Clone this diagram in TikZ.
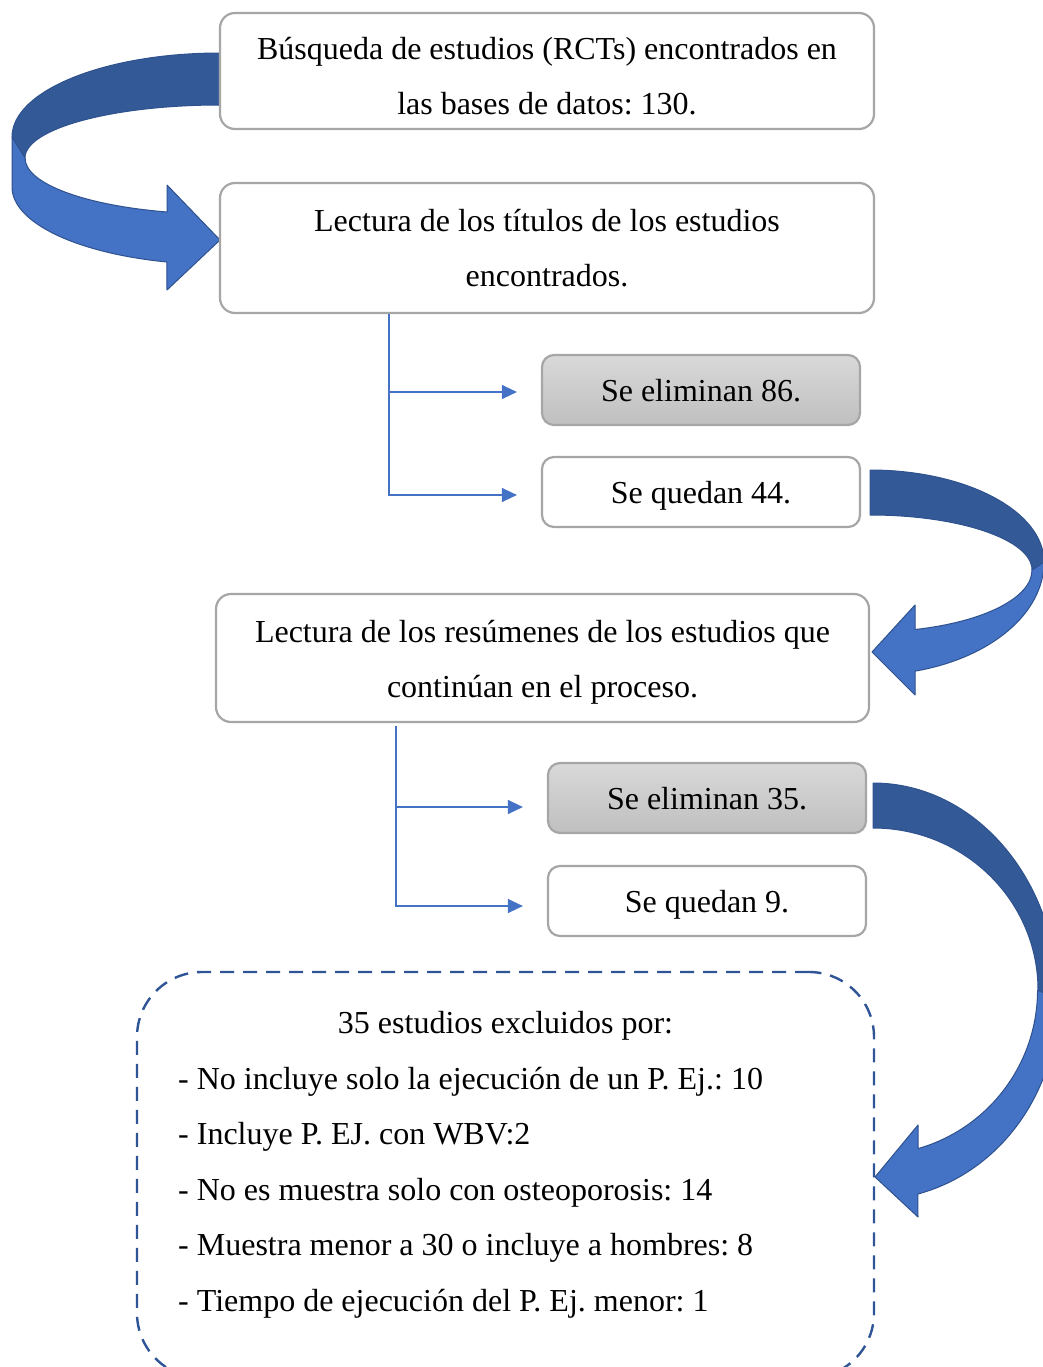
\documentclass[tikz,border=0pt]{standalone}
\usepackage{fontspec}
\setmainfont{Liberation Serif}
\usetikzlibrary{arrows.meta}
\definecolor{boxgray}{HTML}{A6A6A6}
\definecolor{ablue}{HTML}{4472C4}
\definecolor{dblue}{HTML}{335A96}
\definecolor{eblue}{HTML}{2F528F}
\definecolor{dashblue}{HTML}{2F5597}
\setlength{\parindent}{0pt}
\frenchspacing
\begin{document}
\begin{tikzpicture}[x=1pt,y=-1pt,
  box/.style={draw=boxgray, line width=2.2pt, rounded corners=15pt, fill=white, align=center,
    font=\fontsize{32}{55}\selectfont\frenchspacing, inner sep=0pt},
  smallbox/.style={box, rounded corners=12pt, minimum width=318pt, minimum height=70pt,
    text height=22pt, text depth=0pt},
  graybox/.style={smallbox, top color=gray!30, bottom color=gray!50},
  conn/.style={draw=ablue, line width=1.4pt, -{Triangle[length=15pt,width=14pt]}, shorten >=24pt},
  band/.style={draw=eblue, line width=1pt, line join=round},
  dashbox/.style={draw=dashblue, dash pattern=on 14pt off 9pt, line width=2.4pt, rounded corners=65pt},
  listtext/.style={inner sep=0pt, align=left, font=\fontsize{32}{55.4}\selectfont\frenchspacing}
]
\useasboundingbox (0,0) rectangle (1043,1367);

% curved arrow 1 (left)
\draw[band, fill=dblue] (220,53) arc[start angle=-90, end angle=-180, x radius=208, y radius=84]
  -- (25,158) arc[start angle=180, end angle=270, x radius=195, y radius=53] -- cycle;
\draw[band, fill=ablue] (12,137) -- (12,187) arc[start angle=180, end angle=104.8, x radius=208, y radius=77.6]
  -- (167,290) -- (220,240) -- (167,185) -- (167,212)
  arc[start angle=105.8, end angle=180, x radius=195, y radius=56] -- cycle;

% curved arrow 2 (right, middle)
\draw[band, fill=dblue] (870,470) arc[start angle=-90, end angle=0, x radius=174, y radius=92]
  -- (1032,570) arc[start angle=0, end angle=-90, x radius=162, y radius=55] -- cycle;
\draw[band, fill=ablue] (1044,562) arc[start angle=0, end angle=75, x radius=174, y radius=113]
  -- (915,695) -- (872,652) -- (915,605) -- (915,629.5)
  arc[start angle=73.87, end angle=0, x radius=162, y radius=61.9] -- cycle;

% curved arrow 3 (right, bottom)
\draw[band, fill=dblue] (873,783) arc[start angle=-90, end angle=0, x radius=185, y radius=217]
  -- (1038,990) arc[start angle=0, end angle=-90, x radius=165, y radius=162] -- cycle;
\draw[band, fill=ablue] (1058,1000) arc[start angle=0, end angle=76, x radius=185, y radius=200]
  -- (918,1217) -- (875,1177) -- (918,1125) -- (918,1148.6)
  arc[start angle=74, end angle=0, x radius=165, y radius=165] -- cycle;

% boxes
\node[box, minimum width=654pt, minimum height=116pt] (b1) at (547,71)
  {\rule{0pt}{33pt}Búsqueda de estudios (RCTs) encontrados en\\las bases de datos: 130.};
\node[box, minimum width=654pt, minimum height=130pt] (b2) at (547,248)
  {Lectura de los títulos de los estudios\\encontrados.};
\node[graybox] (b3) at (701,390) {Se eliminan 86.};
\node[smallbox] (b4) at (701,492) {Se quedan 44.};
\node[box, minimum width=653pt, minimum height=128pt] (b5) at (542.5,658)
  {\rule{0pt}{30pt}Lectura de los resúmenes de los estudios que\\continúan en el proceso.};
\node[graybox] (b6) at (707,798) {Se eliminan 35.};
\node[smallbox] (b7) at (707,901) {Se quedan 9.};

% connectors
\coordinate (v1) at ([xshift=170pt]b2.south west);
\draw[conn] (v1) |- ([yshift=-2pt]b3.west);
\draw[conn] (v1) |- ([yshift=-3pt]b4.west);
\coordinate (v2) at ([xshift=181pt,yshift=-3pt]b5.south west);
\draw[conn] (v2) |- ([yshift=-9pt]b6.west);
\draw[conn] (v2) |- ([yshift=-5pt]b7.west);

% excluded box
\node[dashbox, minimum width=737pt, minimum height=406pt] (ex) at (505.5,1175) {};
\node[listtext, anchor=base] (extitle) at (505.5,1033.5) {35 estudios excluidos por:};
\node[listtext, anchor=north west] (exlist) at (178,1067)
  {- No incluye solo la ejecución de un P. Ej.: 10\\
   - Incluye P. EJ. con WBV:2\\
   - No es muestra solo con osteoporosis: 14\\
   - Muestra menor a 30 o incluye a hombres: 8\\
   - Tiempo de ejecución del P. Ej. menor: 1};
\end{tikzpicture}
\end{document}
